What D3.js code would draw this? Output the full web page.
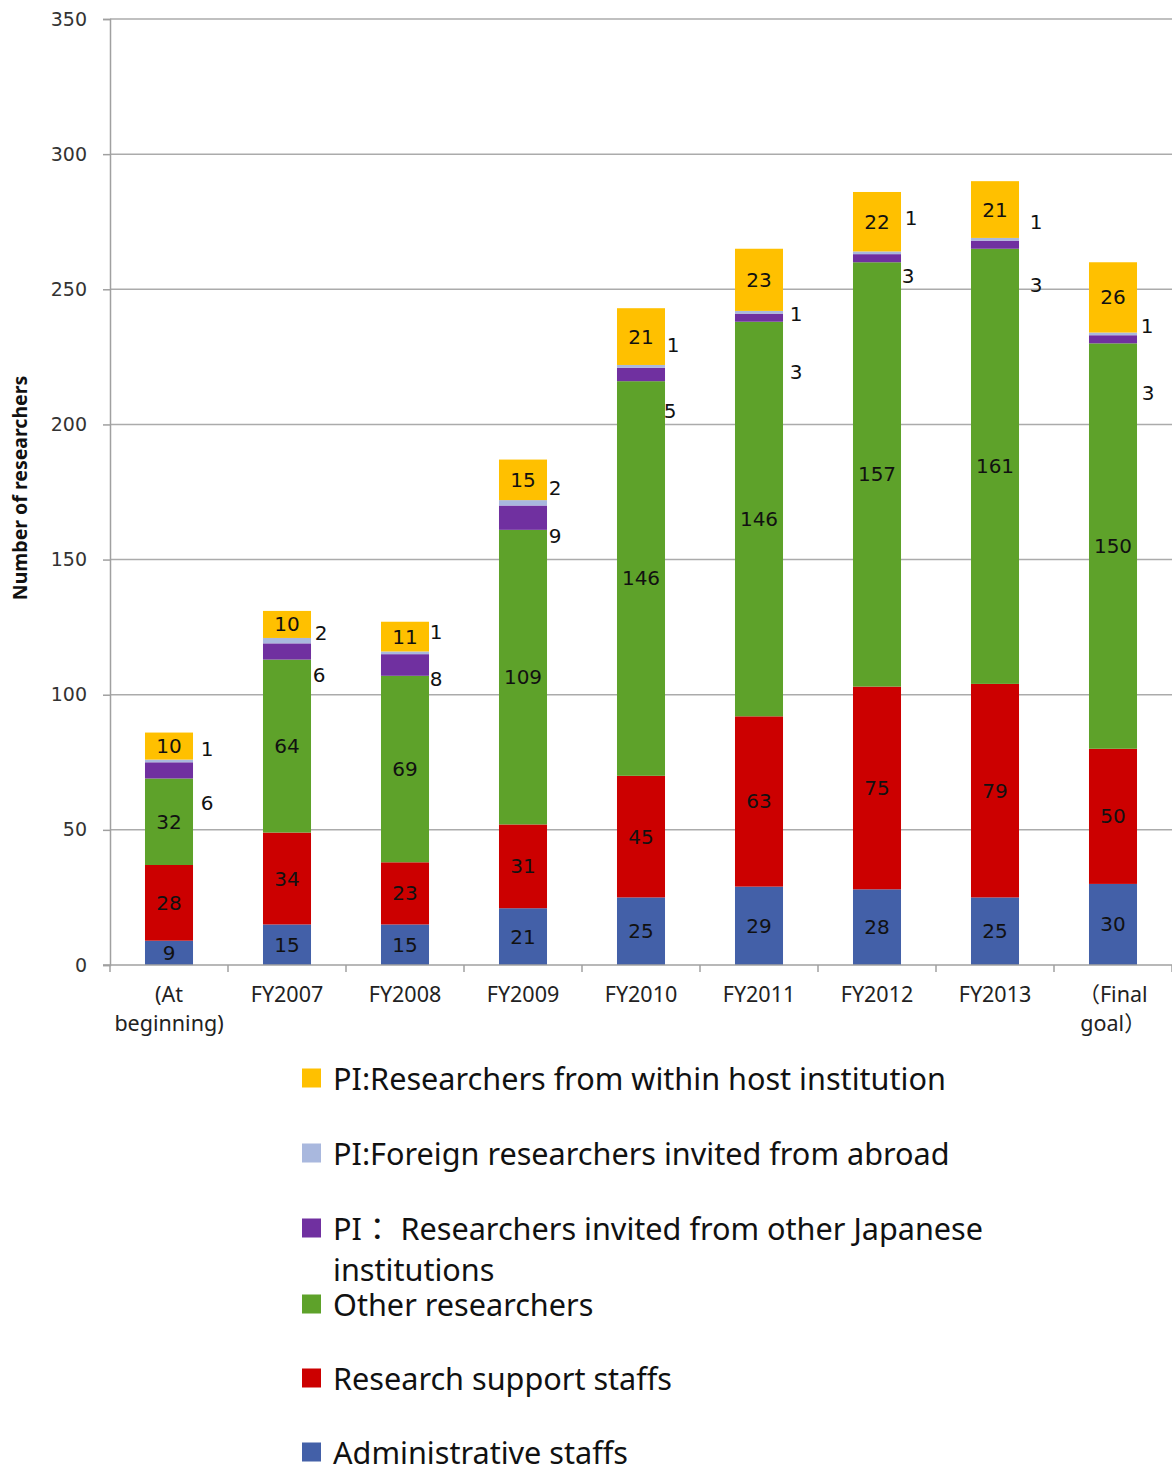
<!DOCTYPE html>
<html>
<head>
<meta charset="utf-8">
<script src="https://cdn.jsdelivr.net/npm/d3@7/dist/d3.min.js"></script>
<style>
  html, body { margin: 0; padding: 0; background: #fff; }
  svg { display: block; }
</style>
</head>
<body>
<script>
// Researcher headcount by category and year
const categories = ["(At beginning)", "FY2007", "FY2008", "FY2009", "FY2010", "FY2011", "FY2012", "FY2013", "（Final goal）"];
const categoryLines = [["(At", "beginning)"], ["FY2007"], ["FY2008"], ["FY2009"], ["FY2010"], ["FY2011"], ["FY2012"], ["FY2013"], ["（Final", "goal）"]];

const adminStaff     = [9, 15, 15, 21, 25, 29, 28, 25, 30];
const supportStaff   = [28, 34, 23, 31, 45, 63, 75, 79, 50];
const otherResearch  = [32, 64, 69, 109, 146, 146, 157, 161, 150];
const piJapanese     = [6, 6, 8, 9, 5, 3, 3, 3, 3];
const piForeign      = [1, 2, 1, 2, 1, 1, 1, 1, 1];
const piHost         = [10, 10, 11, 15, 21, 23, 22, 21, 26];

const yTicks = [0, 50, 100, 150, 200, 250, 300, 350];

const seriesNames = [
  "Administrative staffs",
  "Research support staffs",
  "Other researchers",
  "PI： Researchers invited from other Japanese institutions",
  "PI:Foreign researchers invited from abroad",
  "PI:Researchers from within host institution"
];

// stacking order bottom -> top
const series = [
  { key: "admin",    values: adminStaff,    color: "#4360A8", inside: true },
  { key: "support",  values: supportStaff,  color: "#CC0000", inside: true },
  { key: "other",    values: otherResearch, color: "#5EA22A", inside: true },
  { key: "japanese", values: piJapanese,    color: "#7030A0", inside: false },
  { key: "foreign",  values: piForeign,     color: "#A9B8DE", inside: false },
  { key: "host",     values: piHost,        color: "#FFC000", inside: true }
];
series.forEach((s, i) => s.name = seriesNames[i]);

// label offsets (px) for the thin PI segments, placed beside each bar
const foreignNudge  = [{dx: 14, dy: -12}, {dx: 10, dy: -8}, {dx: 7, dy: -21}, {dx: 8, dy: -15}, {dx: 8, dy: -21}, {dx: 13, dy: 2}, {dx: 10, dy: -35}, {dx: 17, dy: -17}, {dx: 10, dy: -8}];
const japaneseNudge = [{dx: 14, dy: 33}, {dx: 8, dy: 24}, {dx: 7, dy: 14}, {dx: 8, dy: 18}, {dx: 5, dy: 37}, {dx: 13, dy: 54}, {dx: 7, dy: 18}, {dx: 17, dy: 40}, {dx: 11, dy: 54}];

const W = 1172, H = 1468;
const margin = { left: 110, right: 0, top: 19, bottom: 503 };
const plotW = W - margin.left - margin.right;
const plotH = H - margin.top - margin.bottom;

const SANS = "DejaVu Sans, sans-serif";
const NOTO = "Noto Sans, Noto Sans CJK JP, sans-serif";

const svg = d3.select("body").append("svg").attr("width", W).attr("height", H);

const x = d3.scaleBand().domain(categories).range([margin.left, margin.left + plotW]).paddingInner(0.593).paddingOuter(0.2965);
const y = d3.scaleLinear().domain([0, 350]).range([margin.top + plotH, margin.top]);

// gridlines
svg.append("g")
  .selectAll("line")
  .data(yTicks.filter(t => t > 0))
  .join("line")
  .attr("x1", margin.left).attr("x2", W)
  .attr("y1", d => y(d)).attr("y2", d => y(d))
  .attr("stroke", "#ababab").attr("stroke-width", 1.5);

// y axis
const yAxis = svg.append("g")
  .attr("transform", `translate(${margin.left},0)`)
  .call(d3.axisLeft(y).tickValues(yTicks).tickSize(7).tickPadding(16).tickFormat(d3.format("d")));
yAxis.select(".domain").attr("stroke", "#a0a0a0").attr("stroke-width", 1.5);
yAxis.selectAll(".tick line").attr("stroke", "#a0a0a0").attr("stroke-width", 1.5);
yAxis.selectAll(".tick text").attr("font-size", 19).attr("fill", "#333").attr("font-family", SANS);

// stacked bars
const stacked = d3.stack()
  .keys(series.map(s => s.key))
  (categories.map((c, i) => {
    const row = { cat: c, i };
    series.forEach(s => row[s.key] = s.values[i]);
    return row;
  }));

const layers = svg.append("g").selectAll("g")
  .data(stacked)
  .join("g")
  .attr("fill", (d, i) => series[i].color);

layers.selectAll("rect")
  .data(d => d)
  .join("rect")
  .attr("x", d => x(d.data.cat))
  .attr("width", x.bandwidth())
  .attr("y", d => y(d[1]))
  .attr("height", d => y(d[0]) - y(d[1]));

// x axis (baseline + category separators)
const x0 = y(0);
svg.append("line")
  .attr("x1", margin.left - 7).attr("x2", W)
  .attr("y1", x0).attr("y2", x0)
  .attr("stroke", "#a0a0a0").attr("stroke-width", 1.5);
const step = x.step();
svg.append("g").selectAll("line")
  .data(d3.range(categories.length + 1))
  .join("line")
  .attr("x1", i => margin.left + i * step).attr("x2", i => margin.left + i * step)
  .attr("y1", x0).attr("y2", x0 + 7)
  .attr("stroke", "#a0a0a0").attr("stroke-width", 1.5);

// category labels
const catG = svg.append("g");
categories.forEach((c, i) => {
  const cx = x(c) + x.bandwidth() / 2;
  const t = catG.append("text")
    .attr("x", cx).attr("y", 1002)
    .attr("text-anchor", "middle")
    .attr("font-family", NOTO)
    .attr("font-size", 21.5)
    .attr("fill", "#222");
  categoryLines[i].forEach((ln, k) => {
    t.append("tspan").attr("x", cx).attr("dy", k === 0 ? 0 : 29).text(ln);
  });
});

// value labels
const labelG = svg.append("g")
  .attr("font-family", SANS)
  .attr("font-size", 20)
  .attr("fill", "#111");

stacked.forEach((layer, li) => {
  const s = series[li];
  layer.forEach((d, i) => {
    const cx = x(d.data.cat) + x.bandwidth() / 2;
    const right = x(d.data.cat) + x.bandwidth();
    const mid = y((d[0] + d[1]) / 2);
    if (s.inside) {
      labelG.append("text")
        .attr("x", cx).attr("y", mid)
        .attr("text-anchor", "middle")
        .attr("dominant-baseline", "central")
        .text(s.values[i]);
    } else {
      const n = s.key === "foreign" ? foreignNudge[i] : japaneseNudge[i];
      labelG.append("text")
        .attr("x", right + n.dx).attr("y", mid + n.dy)
        .attr("text-anchor", "middle")
        .attr("dominant-baseline", "central")
        .text(s.values[i]);
    }
  });
});

// y axis title
svg.append("text")
  .attr("transform", `translate(27,488) rotate(-90)`)
  .attr("text-anchor", "middle")
  .attr("font-family", "Noto Sans, sans-serif")
  .attr("font-weight", "bold")
  .attr("font-size", 19.5)
  .attr("fill", "#111")
  .text("Number of researchers");

// legend (top series first)
const legendRows = [
  { s: series[5], lines: ["PI:Researchers from within host institution"], y: 1078 },
  { s: series[4], lines: ["PI:Foreign researchers invited from abroad"], y: 1153 },
  { s: series[3], lines: ["PI： Researchers invited from other Japanese", "institutions"], y: 1228 },
  { s: series[2], lines: ["Other researchers"], y: 1304 },
  { s: series[1], lines: ["Research support staffs"], y: 1378 },
  { s: series[0], lines: ["Administrative staffs"], y: 1452 }
];
const legG = svg.append("g");
const legTexts = [];
legendRows.forEach(r => {
  legG.append("rect")
    .attr("x", 302).attr("y", r.y - 9.5)
    .attr("width", 19).attr("height", 19)
    .attr("fill", r.s.color);
  const t = legG.append("text")
    .attr("x", 333).attr("y", r.y)
    .attr("dominant-baseline", "central")
    .attr("font-family", NOTO)
    .attr("font-size", 27)
    .attr("fill", "#111");
  r.lines.forEach((ln, k) => {
    t.append("tspan").attr("x", 333).attr("dy", k === 0 ? 0 : 41).text(ln);
  });
  legTexts.push(t);
});
// size the legend font so the first entry spans the legend width
const firstLen = legTexts[0].node().getComputedTextLength();
const legendSize = 27 * 613 / firstLen;
legTexts.forEach(t => t.attr("font-size", legendSize));
</script>
</body>
</html>
